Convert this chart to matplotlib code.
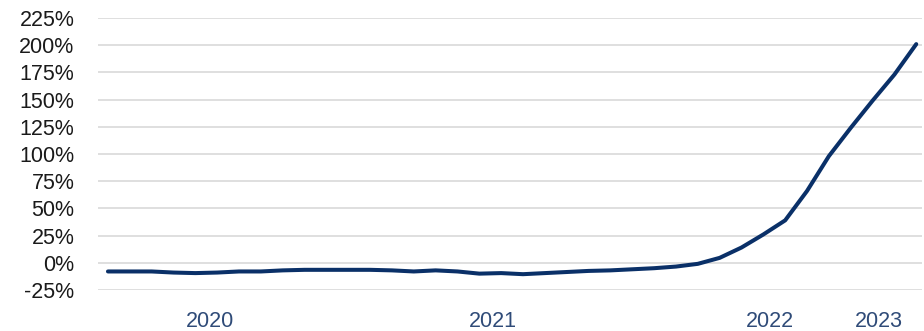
import matplotlib
matplotlib.use("Agg")
import matplotlib.pyplot as plt
from matplotlib.ticker import FuncFormatter

# series values (%), one per period
values = [
    -8, -8, -8, -9, -9.5, -9, -8, -8, -7, -6.5,
    -6.5, -6.5, -6.5, -7, -8, -7, -8, -10, -9.5, -10.5,
    -9.5, -8.5, -7.5, -7, -6, -5, -3.5, -1, 4.5, 14,
    26, 39, 66, 98, 124, 149, 173, 201,
]
year_labels = ["2020", "2021", "2022", "2023"]
year_positions = [4.67, 17.6, 30.3, 35.3]
y_ticks = [-25, 0, 25, 50, 75, 100, 125, 150, 175, 200, 225]

plt.rcParams["font.family"] = ["Liberation Sans", "DejaVu Sans"]

fig = plt.figure(figsize=(9.24, 3.31), dpi=100)
ax = fig.add_axes([0.106, 0.124, 0.892, 0.8216])

ax.plot(range(len(values)), values, color="#0a3068", lw=2.9,
        solid_capstyle="round", solid_joinstyle="round", zorder=3)

ax.set_ylim(-25, 225)
ax.set_xlim(-0.458, 37.27)
ax.set_yticks(y_ticks)
ax.yaxis.set_major_formatter(FuncFormatter(lambda v, _: f"{v:.0f}%"))
ax.set_xticks(year_positions)
ax.set_xticklabels(year_labels)

ax.grid(axis="y", color="#dcdcdc", lw=1.3)
ax.set_axisbelow(True)
for s in ax.spines.values():
    s.set_visible(False)

ax.tick_params(axis="y", length=0, pad=17, labelsize=15.5, labelcolor="#1a1a1a")
ax.tick_params(axis="x", length=0, pad=15, labelsize=15.5, labelcolor="#2f4b78")

fig.savefig("out.png", dpi=100)
